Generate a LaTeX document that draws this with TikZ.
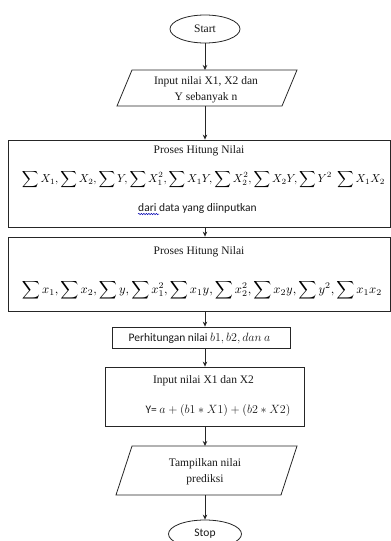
\documentclass[tikz,border=0pt]{standalone}
\usepackage{fontspec}
\setmainfont{Liberation Serif}
\newfontfamily\carl{Carlito}
\usepackage{graphicx}
\usetikzlibrary{shapes.geometric,arrows.meta,decorations.pathmorphing}
\begin{document}
\begin{tikzpicture}[x=1pt,y=-1pt,
  line/.style={draw=black!85, line width=0.8pt},
  arr/.style={draw=black!85, line width=0.8pt, -{Stealth[length=5pt,width=4.5pt]}},
  term/.style={ellipse, line, minimum width=70pt, minimum height=28pt, inner sep=0pt},
  box/.style={rectangle, line, inner sep=0pt},
  txt/.style={font=\fontsize{11.5}{16}\selectfont, align=center, inner sep=0pt, text=black!90},
  ctxt/.style={font=\carl\fontsize{11.5}{14}\selectfont, align=center, inner sep=0pt, text=black!90}
]
\useasboundingbox (0,0) rectangle (391,541);
\fill[white] (0,0) rectangle (391,541);

% Start
\node[term, txt] (start) at (205,29) {Start};

% Input parallelogram
\draw[line] (132,70) -- (297,70) -- (282,106) -- (117,106) -- cycle;
\coordinate (p1n) at (205,70);
\coordinate (p1s) at (205,106);
\node[txt] (p1t) at (206,90) {Input nilai X1, X2 dan\\Y sebanyak n};

% Box 1
\node[box, minimum width=382pt, minimum height=87pt] (b1) at (199,183.5) {};
\node[txt] (b1a) at (199,150.5) {Proses Hitung Nilai};
\node[inner sep=0pt] (b1f) at (203.5,179.5) {\resizebox{363pt}{!}{$\displaystyle
  \sum X_1 , \sum X_2 , \sum Y , \sum X_1^2 , \sum X_1 Y , \sum X_2^2 , \sum X_2 Y , \sum Y^2 \;\sum X_1 X_2$}};
\node[ctxt] (dd) at (197.5,208.5) {dari data yang diinputkan};
\draw[blue!70!black, line width=0.5pt, decorate, decoration={snake, amplitude=0.7pt, segment length=2.5pt}]
  ([yshift=-2.5pt]dd.base west) -- ++(21,0);

% Box 2
\node[box, minimum width=382pt, minimum height=74pt] (b2) at (199,274) {};
\node[txt] (b2a) at (199,252) {Proses Hitung Nilai};
\node[inner sep=0pt] (b2f) at (202,290.5) {\resizebox{360pt}{!}{$\displaystyle
  \sum x_1 , \sum x_2 , \sum y , \sum x_1^2 , \sum x_1 y , \sum x_2^2 , \sum x_2 y , \sum y^2 , \sum x_1 x_2$}};

% Box 3
\node[box, minimum width=178pt, minimum height=21pt] (b3) at (201,337.5) {};
\node[ctxt] (b3t) at (199.5,338) {Perhitungan nilai $b1, b2, dan\ a$};

% Box 4
\node[box, minimum width=199pt, minimum height=59pt] (b4) at (204.5,396.5) {};
\node[txt] (b4a) at (203.5,381) {Input nilai X1 dan X2};
\node[ctxt] (b4b) at (218,410) {Y= $a + (b1 \ast X1) + (b2 \ast X2)$};

% Output parallelogram
\draw[line] (132,446) -- (297,446) -- (281,495) -- (116,495) -- cycle;
\coordinate (p2n) at (205,446);
\coordinate (p2s) at (205,495);
\node[txt] (p2t) at (205,472) {Tampilkan nilai\\prediksi};

% Stop
\node[term, ctxt, minimum width=73pt] (stop) at (205,534) {Stop};

% Arrows
\draw[arr] (start.south) -- (p1n);
\draw[arr] (p1s) -- (p1s |- b1.north);
\draw[arr] (b1.south -| start) -- (b2.north -| start);
\draw[arr] (b2.south -| start) -- (b3.north -| start);
\draw[arr] (b3.south -| start) -- (b4.north -| start);
\draw[arr] (b4.south -| start) -- (p2n);
\draw[arr] (p2s) -- (stop.north);
\end{tikzpicture}
\end{document}
